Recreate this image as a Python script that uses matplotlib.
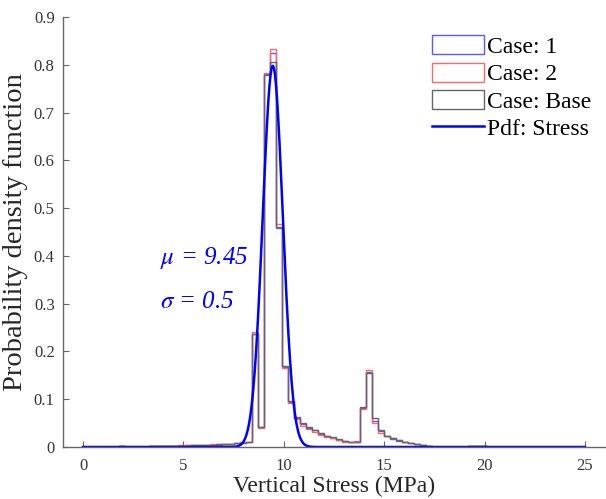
import numpy as np
import matplotlib
matplotlib.use("Agg")
import matplotlib.pyplot as plt
from matplotlib.patches import Patch

# histogram bins (MPa)
bin_start = 0.0
bin_width = 0.3

# probability density per bin, bins of 0.3 MPa starting at 0
base = [0.0005, 0.0005, 0.0005, 0.0005, 0.0005, 0.0005, 0.003, 0.0005, 0.0005, 0.0005,
        0.0005, 0.002, 0.002, 0.002, 0.002, 0.003, 0.003, 0.003, 0.004, 0.005,
        0.004, 0.005, 0.006, 0.006, 0.006, 0.008, 0.009, 0.011,
        0.237, 0.042, 0.778, 0.806, 0.458, 0.170, 0.097, 0.063, 0.050, 0.040,
        0.036, 0.029, 0.024, 0.020, 0.016, 0.012, 0.010, 0.011, 0.084, 0.155,
        0.060, 0.035, 0.024, 0.018, 0.014, 0.011, 0.008, 0.006, 0.004, 0.003,
        0.001, 0.001, 0.0005, 0.0005, 0.0005, 0.0005, 0.002, 0.002, 0.002]
case1 = [0.0005, 0.0005, 0.0005, 0.0005, 0.0005, 0.0005, 0.003, 0.0005, 0.0005, 0.0005,
         0.0005, 0.002, 0.002, 0.002, 0.003, 0.002, 0.003, 0.004, 0.004, 0.004,
         0.005, 0.005, 0.005, 0.006, 0.007, 0.008, 0.009, 0.010,
         0.236, 0.041, 0.780, 0.824, 0.461, 0.168, 0.095, 0.060, 0.048, 0.042,
         0.035, 0.027, 0.023, 0.019, 0.015, 0.012, 0.011, 0.010, 0.082, 0.158,
         0.055, 0.033, 0.022, 0.017, 0.013, 0.010, 0.008, 0.006, 0.004, 0.002,
         0.001, 0.001, 0.0005, 0.0005, 0.0005, 0.0005, 0.002, 0.002, 0.002]
case2 = [0.0005, 0.0005, 0.0005, 0.0005, 0.0005, 0.0005, 0.002, 0.0005, 0.0005, 0.0005,
         0.0005, 0.002, 0.002, 0.003, 0.002, 0.003, 0.004, 0.004, 0.005, 0.004,
         0.005, 0.006, 0.006, 0.006, 0.007, 0.008, 0.010, 0.010,
         0.240, 0.040, 0.782, 0.832, 0.466, 0.165, 0.093, 0.058, 0.045, 0.038,
         0.032, 0.025, 0.021, 0.018, 0.014, 0.011, 0.011, 0.012, 0.080, 0.162,
         0.050, 0.030, 0.022, 0.018, 0.014, 0.011, 0.009, 0.006, 0.005, 0.003,
         0.001, 0.001, 0.0005, 0.0005, 0.0005, 0.0005, 0.002, 0.003, 0.002]

# fitted normal pdf
mu = 9.45
sigma = 0.5
pdf_range = (0.0, 25.0)

xticks = [0, 5, 10, 15, 20, 25]
yticks = [0, 0.1, 0.2, 0.3, 0.4, 0.5, 0.6, 0.7, 0.8, 0.9]
ytick_labels = ["0", "0.1", "0.2", "0.3", "0.4", "0.5", "0.6", "0.7", "0.8", "0.9"]

c_blue = (0.35, 0.35, 1.0)
c_red = (1.0, 0.4, 0.4)
c_base = (0.4, 0.4, 0.4)
c_pdf = (0.0, 0.0, 1.0)

plt.rcParams['font.family'] = ['Liberation Serif', 'DejaVu Serif']
plt.rcParams['mathtext.fontset'] = 'stix'

fig = plt.figure(figsize=(6.06, 4.99), dpi=100)
ax = fig.add_axes([63 / 606, 52 / 499, 542 / 606, 430 / 499])

edges = bin_start + bin_width * np.arange(len(base) + 1)
ax.stairs(case1, edges, baseline=0, fill=False, color=c_blue, linewidth=1.0)
ax.stairs(case2, edges, baseline=0, fill=False, color=c_red, linewidth=1.0)
ax.stairs(base, edges, baseline=0, fill=False, color=c_base, linewidth=1.0)

x = np.linspace(pdf_range[0], pdf_range[1], 1000)
pdf = np.exp(-0.5 * ((x - mu) / sigma) ** 2) / (sigma * np.sqrt(2 * np.pi))
pdf_line, = ax.plot(x, pdf, color=c_pdf, linewidth=1.8)

ax.text(3.85, 0.395, r'$\mu$ = ' + f'{mu}', color=c_pdf, fontsize=18,
        style='italic', va='center', ha='left')
ax.text(3.85, 0.303, r'$\sigma$ = ' + f'{sigma}', color=c_pdf, fontsize=18,
        style='italic', va='center', ha='left')

ax.set_xlim(-1, 26)
ax.set_ylim(0, 0.9)
ax.set_xticks(xticks)
ax.set_yticks(yticks)
ax.set_yticklabels(ytick_labels)

ax.spines['top'].set_visible(False)
ax.spines['right'].set_visible(False)
for s in ('left', 'bottom'):
    ax.spines[s].set_color(c_base)
    ax.spines[s].set_linewidth(1.0)
ax.tick_params(direction='in', length=4, width=0.8, color=c_base,
               labelsize=12, labelcolor=(0.2, 0.2, 0.2))
ax.tick_params(axis='x', pad=8)
ax.tick_params(axis='y', pad=6)

ax.set_xlabel('Vertical Stress (MPa)', fontsize=17, color=(0.15, 0.15, 0.15), labelpad=1)
ax.set_ylabel('Probability density function', fontsize=20.5, color=(0.15, 0.15, 0.15), labelpad=4)

handles = [Patch(facecolor='none', edgecolor=c_blue, linewidth=1.0),
           Patch(facecolor='none', edgecolor=c_red, linewidth=1.0),
           Patch(facecolor='none', edgecolor=c_base, linewidth=1.0),
           pdf_line]
labels = ['Case: 1', 'Case: 2', 'Case: Base', 'Pdf: Stress']
ax.legend(handles, labels, loc='upper right', bbox_to_anchor=(1.0, 0.99), frameon=False,
          fontsize=17, handlelength=2.2, handleheight=0.85, handletextpad=0.1,
          labelspacing=0.2, borderaxespad=0.2)

fig.savefig('out.png', dpi=100)
